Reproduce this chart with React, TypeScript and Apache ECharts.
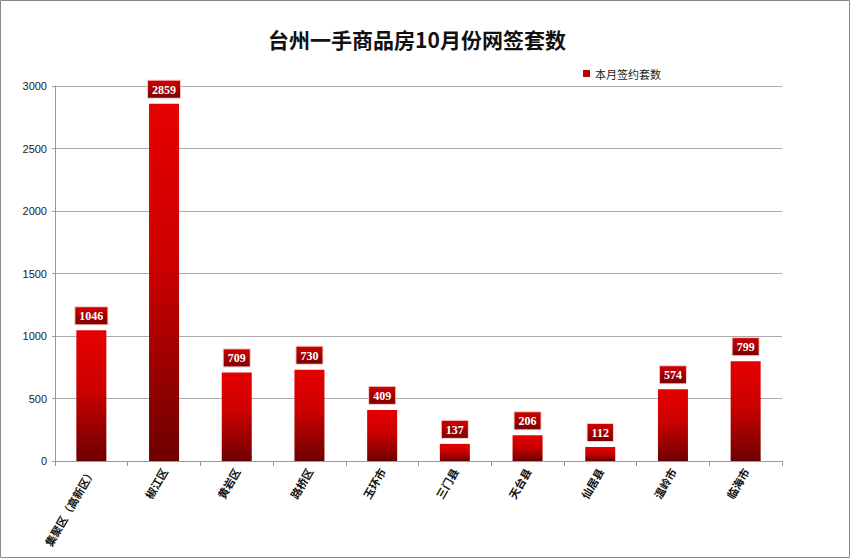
import React, { useEffect, useRef } from "react";
import * as echarts from "echarts";

const categories = ["集聚区（高新区）", "椒江区", "黄岩区", "路桥区", "玉环市", "三门县", "天台县", "仙居县", "温岭市", "临海市"];
const values = [1046, 2859, 709, 730, 409, 137, 206, 112, 574, 799];
const seriesName = "本月签约套数";
const title = "台州一手商品房10月份网签套数";

export default function App() {
  const ref = useRef<HTMLDivElement>(null);
  useEffect(() => {
    document.body.style.margin = "0";
    const chart = echarts.init(ref.current!, null, { renderer: "svg" });
    chart.setOption({
      animation: false,
      backgroundColor: "#fff",
      title: {
        text: title,
        left: 412,
        top: 23,
        textAlign: "center",
        textStyle: { fontSize: 21, fontWeight: "bold", color: "#111", fontFamily: "Noto Sans CJK SC" },
      },
      legend: {
        left: 578,
        top: 63,
        itemWidth: 7,
        itemHeight: 7,
        itemGap: 4,
        icon: "rect",
        textStyle: { fontSize: 11, color: "#222", fontFamily: "Noto Sans CJK SC" },
        data: [{ name: seriesName, itemStyle: { color: "#c00000" } }],
      },
      graphic: [
        { type: "rect", shape: { x: 0.5, y: 0.5, width: 849, height: 557 }, style: { fill: "none", stroke: "#8a8a8a", lineWidth: 1 } },
      ],
      grid: { left: 55, right: 68, top: 86, bottom: 97, containLabel: false },
      xAxis: {
        type: "category",
        data: categories,
        axisLine: { lineStyle: { color: "#999" } },
        axisTick: { show: true, length: 5, alignWithLabel: false, lineStyle: { color: "#999" } },
        axisLabel: {
          rotate: 60,
          interval: 0,
          fontSize: 11,
          fontWeight: "bold",
          color: "#111",
          margin: 8,
          fontFamily: "Noto Sans CJK SC",
        },
      },
      yAxis: {
        type: "value",
        min: 0,
        max: 3000,
        interval: 500,
        axisLine: { show: true, lineStyle: { color: "#999" } },
        axisTick: { show: true, length: 3, lineStyle: { color: "#999" } },
        splitLine: { lineStyle: { color: "#aaa" } },
        axisLabel: { fontSize: 11, color: "#222", margin: 8, fontFamily: "Liberation Sans", formatter: (v: number) => String(v) },
      },
      series: [
        {
          name: seriesName,
          type: "bar",
          data: values,
          barWidth: 30,
          itemStyle: {
            color: new echarts.graphic.LinearGradient(0, 0, 0, 1, [
              { offset: 0, color: "#e60000" },
              { offset: 0.45, color: "#cc0000" },
              { offset: 1, color: "#6e0000" },
            ]),
          },
          label: {
            show: true,
            position: "top",
            distance: 6,
            color: "#fff",
            fontSize: 12,
            fontWeight: "bold",
            fontFamily: "Liberation Serif",
            padding: [3, 4, 2, 4],
            borderColor: "#f3c8c8",
            borderWidth: 1,
            backgroundColor: new echarts.graphic.LinearGradient(0, 0, 0, 1, [
              { offset: 0, color: "#d00000" },
              { offset: 1, color: "#7a0000" },
            ]),
          },
        },
      ],
    });
    return () => chart.dispose();
  }, []);
  return <div ref={ref} style={{ width: 850, height: 558 }} />;
}
